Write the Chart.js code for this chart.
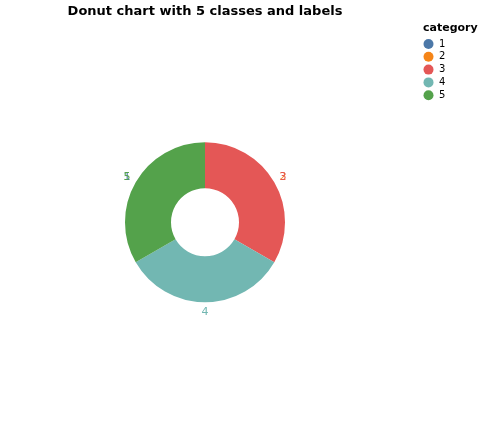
<!DOCTYPE html>
<html>
<head>
<meta charset="utf-8">
<script src="https://cdn.jsdelivr.net/npm/chart.js@4"></script>
<style>
html,body{margin:0;padding:0;background:#fff;}
#wrap{width:482px;height:427px;position:relative;}
</style>
</head>
<body>
<div id="wrap"><canvas id="c" width="482" height="427"></canvas></div>
<script>
const categories = ['1', '2', '3', '4', '5'];
const values = [0, 0, 1, 1, 1];
// slice on which each category's text label is drawn (as in the reference)
const labelOnSlice = ['5', '3', '3', '4', '5'];
const colors = ['#4c78a8', '#f58518', '#e45756', '#72b7b2', '#54a24b'];
const titleText = 'Donut chart with 5 classes and labels';
const legendTitle = 'category';

Chart.defaults.font.family = "'DejaVu Sans', sans-serif";

const sliceLabels = {
  id: 'sliceLabels',
  afterDatasetsDraw(chart) {
    const meta = chart.getDatasetMeta(0);
    const ctx = chart.ctx;
    ctx.save();
    ctx.font = "11px 'DejaVu Sans', sans-serif";
    ctx.textAlign = 'center';
    ctx.textBaseline = 'middle';
    categories.forEach((cat, i) => {
      const arc = meta.data[categories.indexOf(labelOnSlice[i])];
      const p = arc.getProps(['x', 'y', 'startAngle', 'endAngle', 'outerRadius'], true);
      const mid = (p.startAngle + p.endAngle) / 2;
      const r = p.outerRadius + 10;
      ctx.fillStyle = colors[i];
      ctx.fillText(cat, p.x + Math.cos(mid) * r, p.y + Math.sin(mid) * r);
    });
    ctx.restore();
  }
};

const sideLegend = {
  id: 'sideLegend',
  afterDraw(chart) {
    const ctx = chart.ctx;
    const x0 = chart.chartArea.right + 11;
    ctx.save();
    ctx.textBaseline = 'middle';
    ctx.textAlign = 'left';
    ctx.fillStyle = '#000';
    ctx.font = "bold 11px 'DejaVu Sans', sans-serif";
    ctx.fillText(legendTitle, x0 + 2, 28);
    ctx.font = "10px 'DejaVu Sans', sans-serif";
    categories.forEach((cat, i) => {
      const y = 44 + i * 12.8;
      ctx.beginPath();
      ctx.arc(x0 + 7.5, y, 5, 0, Math.PI * 2);
      ctx.fillStyle = colors[i];
      ctx.fill();
      ctx.fillStyle = '#000';
      ctx.fillText(cat, x0 + 18, y);
    });
    ctx.restore();
  }
};

new Chart(document.getElementById('c'), {
  type: 'doughnut',
  data: {
    labels: categories,
    datasets: [{
      data: values,
      backgroundColor: colors,
      borderWidth: 0,
      hoverOffset: 0
    }]
  },
  options: {
    responsive: false,
    animation: false,
    radius: 80,
    cutout: '42.5%',
    layout: { padding: { left: 0, right: 72, top: 0, bottom: 6 } },
    plugins: {
      title: {
        display: true,
        text: titleText,
        fullSize: false,
        color: '#000',
        font: { size: 13, weight: 'bold' },
        padding: { top: 4, bottom: 4 }
      },
      legend: { display: false },
      tooltip: { enabled: false }
    }
  },
  plugins: [sliceLabels, sideLegend]
});
</script>
</body>
</html>
